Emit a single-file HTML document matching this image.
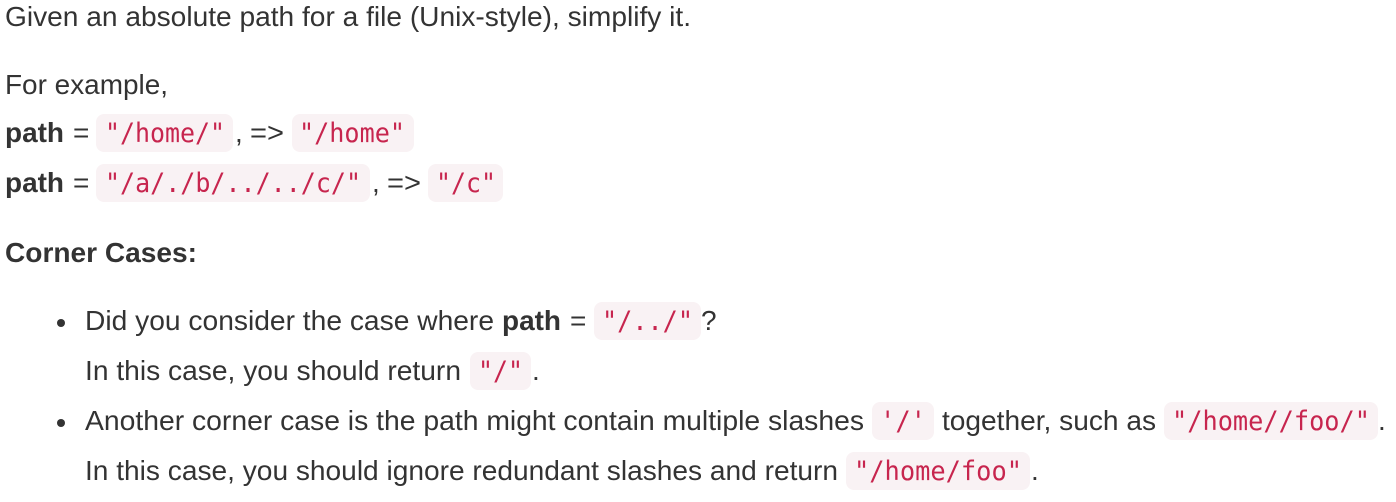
<!DOCTYPE html>
<html><head><meta charset="utf-8"><style>
html,body{margin:0;padding:0;background:#fff;width:1396px;height:502px;overflow:hidden}
svg{display:block}
text{font-family:"Liberation Sans",Arial,sans-serif;font-size:28px;fill:#333;white-space:pre}
.b{font-weight:bold}
.c{font-family:"DejaVu Sans Mono","Liberation Mono",monospace;font-size:27px;fill:#c7254e}
rect{fill:#f9f2f4}
</style></head><body>
<svg width="1396" height="502" viewBox="0 0 1396 502" xmlns="http://www.w3.org/2000/svg">
<rect x="96" y="114" width="137" height="38" rx="8"/>
<rect x="292" y="114" width="122" height="38" rx="8"/>
<rect x="96" y="164" width="274" height="38" rx="8"/>
<rect x="428" y="164" width="75" height="38" rx="8"/>
<rect x="594" y="302" width="107" height="38" rx="8"/>
<rect x="470" y="352" width="61" height="38" rx="8"/>
<rect x="872" y="402" width="62" height="38" rx="8"/>
<rect x="1164" y="402" width="214" height="38" rx="8"/>
<rect x="846" y="452" width="184" height="38" rx="8"/>
<circle cx="61" cy="323" r="4" fill="#333"/>
<circle cx="61" cy="423" r="4" fill="#333"/>

<text x="5" y="26" textLength="686" lengthAdjust="spacingAndGlyphs">Given an absolute path for a file (Unix-style), simplify it.</text>
<text x="5" y="94" textLength="163" lengthAdjust="spacingAndGlyphs">For example,</text>

<text class="b" x="5" y="142" textLength="59" lengthAdjust="spacingAndGlyphs">path</text>
<text x="73" y="142">=</text>
<text class="c" x="105" y="142" textLength="120" lengthAdjust="spacingAndGlyphs">"/home/"</text>
<text x="235" y="142">,</text>
<text x="250" y="142" textLength="34" lengthAdjust="spacingAndGlyphs">=&gt;</text>
<text class="c" x="299" y="142" textLength="106" lengthAdjust="spacingAndGlyphs">"/home"</text>

<text class="b" x="5" y="192" textLength="59" lengthAdjust="spacingAndGlyphs">path</text>
<text x="73" y="192">=</text>
<text class="c" x="105" y="192" textLength="256" lengthAdjust="spacingAndGlyphs">"/a/./b/../../c/"</text>
<text x="372" y="192">,</text>
<text x="387" y="192" textLength="34" lengthAdjust="spacingAndGlyphs">=&gt;</text>
<text class="c" x="436" y="192" textLength="60" lengthAdjust="spacingAndGlyphs">"/c"</text>

<text class="b" x="5" y="262" textLength="192" lengthAdjust="spacingAndGlyphs">Corner Cases:</text>

<text x="85" y="330" textLength="409" lengthAdjust="spacingAndGlyphs">Did you consider the case where</text>
<text class="b" x="502" y="330" textLength="59" lengthAdjust="spacingAndGlyphs">path</text>
<text x="570" y="330">=</text>
<text class="c" x="602" y="330" textLength="91" lengthAdjust="spacingAndGlyphs">"/../"</text>
<text x="701" y="330">?</text>

<text x="85" y="380" textLength="376" lengthAdjust="spacingAndGlyphs">In this case, you should return</text>
<text class="c" x="478" y="380" textLength="45" lengthAdjust="spacingAndGlyphs">"/"</text>
<text x="532" y="380">.</text>

<text x="85" y="430" textLength="779" lengthAdjust="spacingAndGlyphs">Another corner case is the path might contain multiple slashes</text>
<text class="c" x="880" y="430" textLength="46" lengthAdjust="spacingAndGlyphs">'/'</text>
<text x="942" y="430" textLength="214" lengthAdjust="spacingAndGlyphs">together, such as</text>
<text class="c" x="1172" y="430" textLength="198" lengthAdjust="spacingAndGlyphs">"/home//foo/"</text>
<text x="1378" y="430">.</text>

<text x="85" y="480" textLength="753" lengthAdjust="spacingAndGlyphs">In this case, you should ignore redundant slashes and return</text>
<text class="c" x="854" y="480" textLength="168" lengthAdjust="spacingAndGlyphs">"/home/foo"</text>
<text x="1031" y="480">.</text>
</svg>
</body></html>
